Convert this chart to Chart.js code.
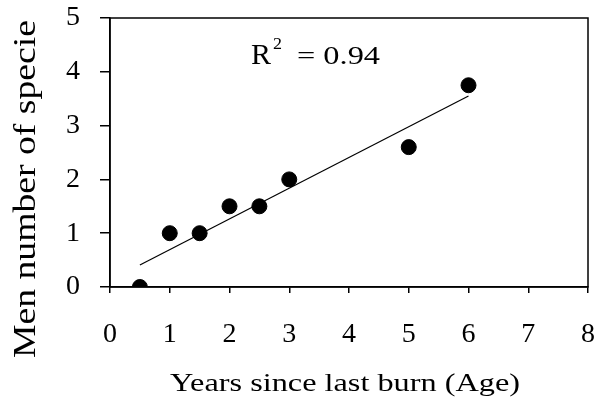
<!DOCTYPE html>
<html>
<head>
<meta charset="utf-8">
<script src="https://cdn.jsdelivr.net/npm/chart.js@4/dist/chart.umd.min.js"></script>
<style>
  html, body { margin: 0; padding: 0; background: #fff; }
  #wrap { width: 600px; height: 403px; }
</style>
</head>
<body>
<div id="wrap"><canvas id="ageChart" width="600" height="403"></canvas></div>
<script>
// observed points
const ageYears = [0.5, 1, 1.5, 2, 2.5, 3, 5, 6];
const meanSpecies = [0, 1, 1, 1.5, 1.5, 2, 2.6, 3.75];
// fitted trend line ends
const trendX = [0.5, 6];
const trendY = [0.41, 3.55];
const rSquared = "0.94";
const xTitle = "Years since last burn (Age)";
const yTitle = "Men number of specie";

const serif = "'Liberation Serif', 'DejaVu Serif', serif";

// text squeezed/stretched to a given width (the scan looks wide)
function wideText(ctx, text, x, y, width) {
  const w = ctx.measureText(text).width;
  ctx.save();
  ctx.translate(x, y);
  ctx.scale(width / w, 1);
  ctx.fillText(text, 0, 0);
  ctx.restore();
}

// box around plot, axis titles and R^2 note
const framePlugin = {
  id: "frame",
  afterDraw(chart) {
    const ctx = chart.ctx;
    const a = chart.chartArea;
    ctx.save();
    ctx.strokeStyle = "#000";
    ctx.lineWidth = 1.5;
    ctx.strokeRect(a.left, a.top, a.right - a.left, a.bottom - a.top);

    ctx.fillStyle = "#000";
    ctx.textBaseline = "alphabetic";
    ctx.textAlign = "left";
    ctx.font = "30px " + serif;
    wideText(ctx, "R", 251, 64, 20);
    ctx.font = "16px " + serif;
    wideText(ctx, "2", 273, 49, 9);
    ctx.font = "25px " + serif;
    wideText(ctx, "= " + rSquared, 297, 64, 83);

    // x title
    ctx.font = "26px " + serif;
    wideText(ctx, xTitle, 170, 391, 350);

    // y title
    ctx.translate(35, 358);
    ctx.rotate(-Math.PI / 2);
    ctx.font = "32px " + serif;
    wideText(ctx, yTitle, 0, 0, 338);
    ctx.restore();
  },
};

const config = {
  type: "scatter",
  data: {
    datasets: [
      {
        label: "species",
        data: ageYears.map((x, i) => ({ x: x, y: meanSpecies[i] })),
        backgroundColor: "#000",
        borderColor: "#000",
        pointRadius: 7.5,
      },
      {
        type: "line",
        label: "trend",
        data: trendX.map((x, i) => ({ x: x, y: trendY[i] })),
        borderColor: "#000",
        borderWidth: 1.2,
        pointRadius: 0,
        fill: false,
      },
    ],
  },
  options: {
    animation: false,
    responsive: false,
    layout: { padding: { top: 18, right: 12, left: 0, bottom: 0 } },
    plugins: { legend: { display: false }, tooltip: { enabled: false } },
    scales: {
      x: {
        type: "linear",
        min: 0,
        max: 8,
        ticks: { stepSize: 1, color: "#000", font: { family: serif, size: 28 }, padding: 25, maxRotation: 0 },
        grid: { drawOnChartArea: false, drawTicks: true, tickLength: 6, color: "#000", lineWidth: 1.5 },
        border: { color: "#000", width: 1.5 },
        afterFit(scale) {
          scale.height = 116;
          scale.paddingLeft = 0;
          scale.paddingRight = 0;
        },
      },
      y: {
        min: 0,
        max: 5,
        ticks: {
          stepSize: 0.5,
          color: "#000",
          font: { family: serif, size: 28 },
          padding: 20,
          callback: (v) => (Number.isInteger(v) ? String(v) : ""),
        },
        grid: { drawOnChartArea: false, drawTicks: true, tickLength: 10, color: "#000", lineWidth: 1.5 },
        border: { color: "#000", width: 1.5 },
        afterFit(scale) {
          scale.width = 110;
          scale.paddingTop = 0;
          scale.paddingBottom = 0;
        },
      },
    },
  },
  plugins: [framePlugin],
};

const ageChart = new Chart(document.getElementById("ageChart"), config);
</script>
</body>
</html>
